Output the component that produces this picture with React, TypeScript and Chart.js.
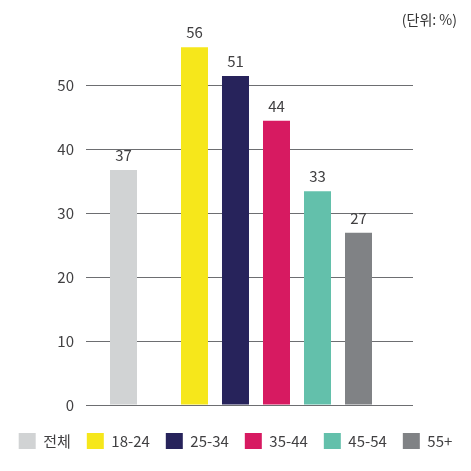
import React, { useEffect, useRef } from "react";
import { Chart, registerables } from "chart.js";

Chart.register(...registerables);

// ---- data ----
const seriesLabels = ["전체", "18-24", "25-34", "35-44", "45-54", "55+"];
const seriesValues = [36.7, 55.9, 51.4, 44.4, 33.4, 26.9];
const seriesColors = ["#d1d3d4", "#f6e71b", "#27235b", "#d71a61", "#63c0ab", "#808285"];
const groupLabels = ["전체", "연령별"];
const seriesGroup = [0, 1, 1, 1, 1, 1];
const yTickValues = [0, 10, 20, 30, 40, 50];
const unitText = "(단위: %)";

const FONT = "'Noto Sans CJK KR', 'Noto Sans', sans-serif";
const TEXT = "#414042";

const valueLabelPlugin = {
  id: "valueLabels",
  afterLayout(chart: any) {
    // keep the unit note off the right edge
    const t = chart.titleBlock;
    if (t) t.right = t.right - 14;
  },
  afterDatasetsDraw(chart: any) {
    const ctx = chart.ctx;
    ctx.save();
    ctx.font = `15px ${FONT}`;
    ctx.fillStyle = TEXT;
    ctx.textAlign = "center";
    ctx.textBaseline = "alphabetic";
    chart.data.datasets.forEach((ds: any, di: number) => {
      const meta = chart.getDatasetMeta(di);
      meta.data.forEach((el: any, j: number) => {
        const v = ds.data[j];
        if (v === null || v === undefined) return;
        ctx.fillText(String(Math.round(v)), el.x, el.y - 9);
      });
    });
    ctx.restore();
  },
};

export default function App() {
  const ref = useRef<HTMLCanvasElement | null>(null);

  useEffect(() => {
    if (!ref.current) return;
    Chart.defaults.font.family = FONT;
    Chart.defaults.color = TEXT;

    const datasets = seriesLabels.map((label, i) => ({
      label,
      data: groupLabels.map((_, g) => (g === seriesGroup[i] ? seriesValues[i] : null)),
      backgroundColor: seriesColors[i],
      borderWidth: 0,
      clip: false as any,
    }));

    const chart = new Chart(ref.current, {
      type: "bar",
      data: { labels: groupLabels, datasets },
      options: {
        animation: false,
        responsive: false,
        layout: { padding: { left: 0, right: 0, top: 0, bottom: 12 } },
        datasets: {
          bar: {
            skipNull: true,
            categoryPercentage: 1.34,
            barPercentage: 0.6585,
            maxBarThickness: 27,
          },
        },
        scales: {
          x: {
            type: "category",
            grid: { display: false },
            border: { display: false },
            ticks: { display: false },
            afterBuildTicks: (scale: any) => {
              scale._startValue = -0.2451;
              scale._valueRange = 2.1373;
            },
            afterFit: (scale: any) => {
              scale.height = 12;
            },
          },
          y: {
            min: 0,
            max: 50,
            afterBuildTicks: (scale: any) => {
              scale.ticks = yTickValues.map((value) => ({ value }));
            },
            grid: { color: "#6d6e71", lineWidth: 1, drawTicks: false },
            border: { display: false },
            ticks: { padding: 12, color: TEXT, font: { size: 15 } },
            afterFit: (scale: any) => {
              scale.width = 86;
            },
          },
          yRight: {
            type: "linear",
            position: "right",
            grid: { display: false },
            border: { display: false },
            ticks: { display: false },
            afterFit: (scale: any) => {
              scale.width = 58;
            },
          },
        },
        plugins: {
          title: {
            display: true,
            text: unitText,
            align: "end",
            color: "#333333",
            font: { size: 14, weight: "normal" },
            padding: { top: 11, bottom: 57.2 },
          },
          legend: {
            position: "bottom",
            labels: {
              boxWidth: 17,
              boxHeight: 16,
              padding: 16,
              color: TEXT,
              font: { size: 15 },
            },
          },
          tooltip: { enabled: false },
        },
      },
      plugins: [valueLabelPlugin],
    });
    return () => chart.destroy();
  }, []);

  return (
    <div style={{ position: "absolute", left: 0, top: 0, width: 471, height: 471, background: "#fff" }}>
      <canvas ref={ref} width={471} height={471} style={{ width: 471, height: 471 }} />
    </div>
  );
}
